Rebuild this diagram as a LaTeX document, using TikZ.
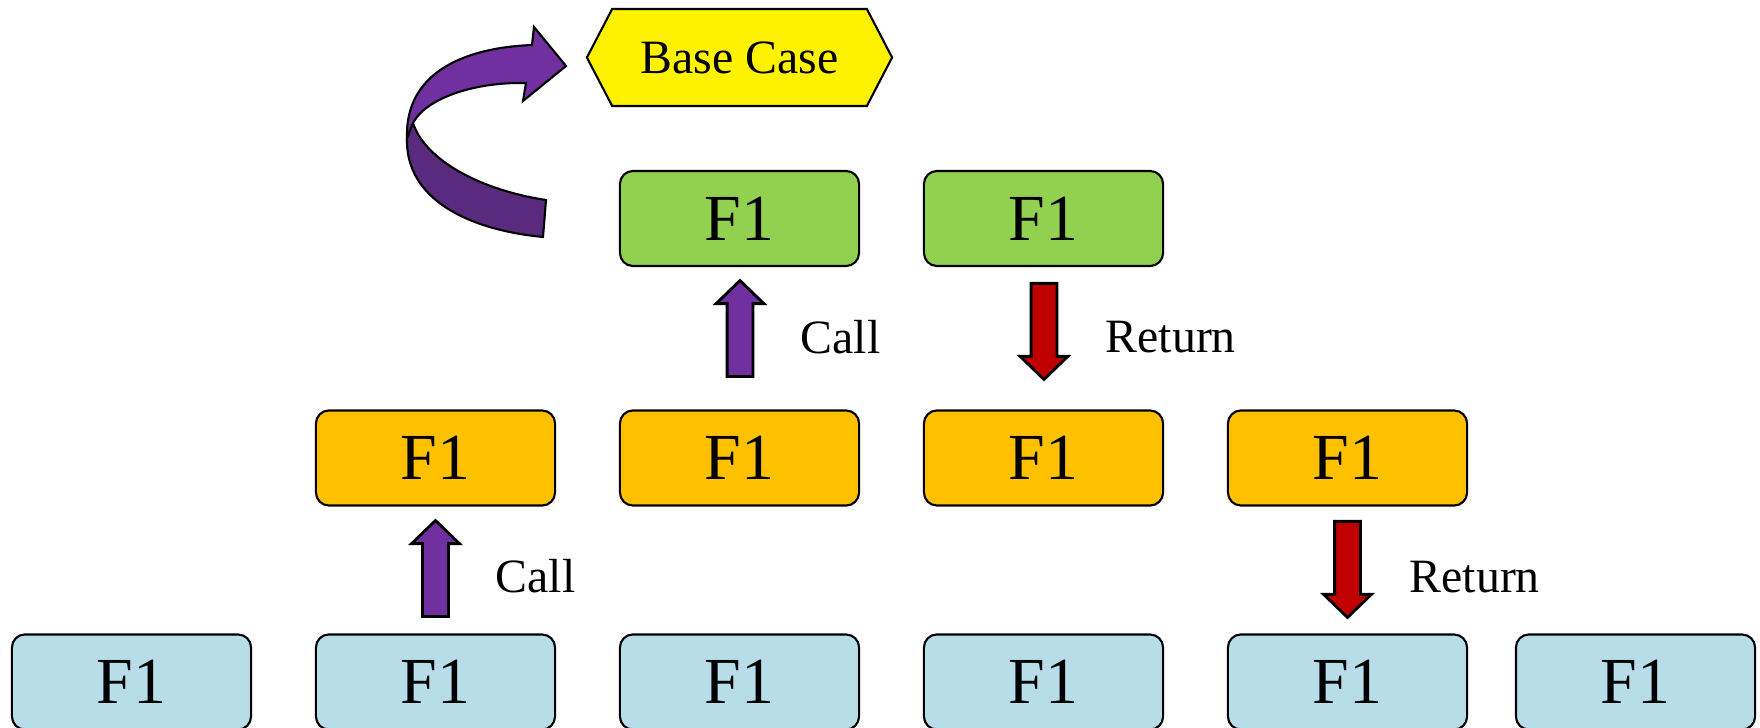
\documentclass[tikz,border=0pt]{standalone}
\usepackage{fontspec}
\setmainfont{Liberation Serif}
\usetikzlibrary{shapes.arrows, shapes.symbols}

\definecolor{topgreen}{HTML}{92D050}
\definecolor{midorange}{HTML}{FFC000}
\definecolor{lowblue}{HTML}{B7DEE8}
\definecolor{callpurple}{HTML}{7030A0}
\definecolor{backpurple}{HTML}{5A2A7E}
\definecolor{retred}{HTML}{C00000}

\begin{document}
\begin{tikzpicture}[x=0.01cm, y=-0.01cm]

\tikzset{box/.style = {draw, rounded corners=3.7pt, line width=0.6pt, minimum width=2.39cm, minimum height=0.95cm, inner sep=0pt, font=\fontsize{18.7}{22}\selectfont}}
\tikzset{topbox/.style = {box, fill=topgreen}}
\tikzset{midbox/.style = {box, fill=midorange}}
\tikzset{lowbox/.style = {box, fill=lowblue}}
\tikzset{basecase/.style = {signal, signal to=west and east, signal pointer angle=125, draw, line width=0.6pt, fill=yellow, minimum width=3.05cm, minimum height=0.97cm, inner sep=0pt, font=\fontsize{13.6}{16}\selectfont}}
\tikzset{blockarrow/.style = {single arrow, draw, line width=0.8pt, inner sep=0.115cm, minimum height=0.96cm, single arrow head extend=0.11cm, single arrow tip angle=92, anchor=tail}}
\tikzset{callarrow/.style = {blockarrow, fill=callpurple, shape border rotate=90}}
\tikzset{retarrow/.style = {blockarrow, fill=retred, shape border rotate=270}}
\tikzset{lbl/.style = {anchor=base west, inner sep=0pt, font=\fontsize{13.6}{16}\selectfont}}

\useasboundingbox (0,0) rectangle (1760,728);

% boxes
\node[basecase] (base) at (739.5,57.5) {Base Case};
\node[topbox] (t3) at (739.5,218.5) {F1};
\node[topbox] (t4) at (1043.5,218.5) {F1};
\node[midbox] (m2) at (435.5,458) {F1};
\node[midbox] (m3) at (739.5,458) {F1};
\node[midbox] (m4) at (1043.5,458) {F1};
\node[midbox] (m5) at (1347.5,458) {F1};
\node[lowbox] (b1) at (131.5,682) {F1};
\node[lowbox] (b2) at (435.5,682) {F1};
\node[lowbox] (b3) at (739.5,682) {F1};
\node[lowbox] (b4) at (1043.5,682) {F1};
\node[lowbox] (b5) at (1347.5,682) {F1};
\node[lowbox] (b6) at (1635.5,682) {F1};

% arrows
\node[callarrow] (call1) at (740,378) {};
\node[retarrow] (ret1) at (1044,282) {};
\node[callarrow] (call2) at (435.5,618) {};
\node[retarrow] (ret2) at (1347.5,520) {};
\node[lbl] (calltxt1) at (800,354) {Call};
\node[lbl] (rettxt1) at (1105,353) {Return};
\node[lbl] (calltxt2) at (495,593) {Call};
\node[lbl] (rettxt2) at (1409,593) {Return};

% curved arrow to the base case
\draw[line width=0.6pt, fill=backpurple] (407,138) .. controls (405,200) and (470,230) .. (543,237)
  -- (546,200) .. controls (480,190) and (425,160) .. (413,123) -- cycle;
\draw[line width=0.6pt, fill=callpurple] (407,138) .. controls (405,75) and (460,48) .. (532,45)
  -- (534,27) -- (566,66) -- (523,101) -- (526,83)
  .. controls (470,82) and (425,100) .. (413,123) -- cycle;
\end{tikzpicture}
\end{document}
